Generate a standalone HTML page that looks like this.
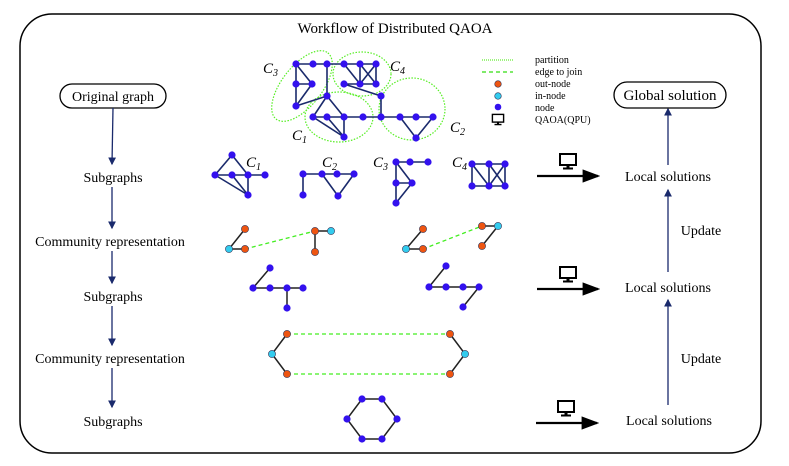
<!DOCTYPE html>
<html><head><meta charset="utf-8"><style>
html,body{margin:0;padding:0;background:#fff;width:789px;height:466px;overflow:hidden}
svg text{font-family:"Liberation Serif",serif;fill:#000}
</style></head><body>
<svg width="789" height="466" viewBox="0 0 789 466" xmlns="http://www.w3.org/2000/svg">
<defs>
<marker id="a" markerWidth="6" markerHeight="6" refX="5" refY="3" orient="auto"><path d="M0,0 L6,3 L0,6 z" fill="#1a2a6c"/></marker>
<marker id="b" markerWidth="8" markerHeight="8" refX="7" refY="4" orient="auto"><path d="M0,1 L8,4 L0,7 z" fill="#000"/></marker>
<g id="mon"><rect x="-8" y="-8" width="16" height="11" fill="none" stroke="#000" stroke-width="2"/><rect x="-1.5" y="3" width="3" height="3" fill="#000"/><rect x="-5" y="5.5" width="10" height="2" fill="#000"/></g>
</defs>
<rect x="20" y="14" width="741" height="439" rx="32" fill="none" stroke="#000" stroke-width="1.5"/>
<text x="395" y="33" font-size="15" text-anchor="middle">Workflow of Distributed QAOA</text>

<!-- left column -->
<rect x="60" y="84" width="106" height="24" rx="12" fill="none" stroke="#000" stroke-width="1.3"/>
<text x="113" y="101" font-size="14" text-anchor="middle">Original graph</text>
<g stroke="#1a2a6c" stroke-width="1.3" marker-end="url(#a)">
<line x1="113" y1="108" x2="112" y2="164"/>
<line x1="112" y1="187" x2="112" y2="228"/>
<line x1="112" y1="251" x2="112" y2="283"/>
<line x1="112" y1="306" x2="112" y2="345"/>
<line x1="112" y1="368" x2="112" y2="407"/>
<line x1="668" y1="165" x2="668" y2="109"/>
<line x1="668" y1="272" x2="668" y2="190"/>
<line x1="668" y1="405" x2="668" y2="300"/>
</g>
<g font-size="14" text-anchor="middle">
<text x="113" y="182">Subgraphs</text>
<text x="110" y="246">Community representation</text>
<text x="113" y="301">Subgraphs</text>
<text x="110" y="363">Community representation</text>
<text x="113" y="426">Subgraphs</text>
<text x="668" y="181">Local solutions</text>
<text x="668" y="292">Local solutions</text>
<text x="669" y="425">Local solutions</text>
<text x="701" y="235">Update</text>
<text x="701" y="363">Update</text>
</g>
<rect x="614" y="82" width="112" height="26" rx="13" fill="none" stroke="#000" stroke-width="1.3"/>
<text x="670" y="100" font-size="15" text-anchor="middle">Global solution</text>

<!-- QPU arrows -->
<g stroke="#000" stroke-width="2.2" marker-end="url(#b)">
<line x1="537" y1="176" x2="598" y2="176"/>
<line x1="537" y1="289" x2="598" y2="289"/>
<line x1="536" y1="423" x2="597" y2="423"/>
</g>
<use href="#mon" x="568" y="162"/>
<use href="#mon" x="568" y="275"/>
<use href="#mon" x="566" y="409"/>

<!-- legend -->
<line x1="482" y1="60" x2="513" y2="60" stroke="#66ee33" stroke-width="1.3" stroke-dasharray="1,1"/>
<line x1="482" y1="72" x2="513" y2="72" stroke="#33dd11" stroke-width="1.3" stroke-dasharray="4,3"/>
<circle cx="498" cy="84" r="3.3" fill="#ee5511" stroke="#335" stroke-width=".6"/>
<circle cx="498" cy="96" r="3.3" fill="#33ccee" stroke="#335" stroke-width=".6"/>
<circle cx="498" cy="107" r="3.3" fill="#3311ee"/>
<g transform="translate(498,120) scale(.7)"><use href="#mon"/></g>
<g font-size="10">
<text x="535" y="63">partition</text>
<text x="535" y="75">edge to join</text>
<text x="535" y="87">out-node</text>
<text x="535" y="99">in-node</text>
<text x="535" y="111">node</text>
<text x="535" y="123">QAOA(QPU)</text>
</g>

<!-- partitions -->
<g fill="none" stroke="#55ee22" stroke-width="1.2" stroke-dasharray="1.5,1.5">
<ellipse cx="302" cy="86" rx="42" ry="20" transform="rotate(-52 302 86)"/>
<ellipse cx="362" cy="74" rx="29" ry="22"/>
<ellipse cx="339" cy="117" rx="34" ry="25"/>
<ellipse cx="412" cy="109" rx="33" ry="31"/>
</g>
<g font-size="15" font-style="italic">
<text x="263" y="73">C<tspan font-size="10" dy="3">3</tspan></text>
<text x="390" y="71">C<tspan font-size="10" dy="3">4</tspan></text>
<text x="292" y="140">C<tspan font-size="10" dy="3">1</tspan></text>
<text x="450" y="132">C<tspan font-size="10" dy="3">2</tspan></text>
<text x="246" y="167">C<tspan font-size="10" dy="3">1</tspan></text>
<text x="322" y="167">C<tspan font-size="10" dy="3">2</tspan></text>
<text x="373" y="167">C<tspan font-size="10" dy="3">3</tspan></text>
<text x="452" y="167">C<tspan font-size="10" dy="3">4</tspan></text>
</g>

<!-- edges navy -->
<g stroke="#1a2a6c" stroke-width="1.6" fill="none">
<path d="M296,64H376 M296,64V106 M296,64L312,84 M296,84H312 M312,84L296,106 M296,106L327,96 M327,64V96
M344,64L360,84 M360,64V84 M360,64L376,84 M376,64L360,84 M376,64V84 M344,84H376 M344,84L381,96 M381,96V117
M327,96L313,117 M327,96L344,117 M313,117L344,137 M327,117L344,137 M344,117V137 M313,117H433
M400,117L416,138L433,117"/>
<path d="M215,175L232,155L248,175 M215,175H265 M215,175L248,195 M232,175L248,195 M248,175V195"/>
<path d="M303,174H354 M303,174V195 M322,174L338,196L354,174"/>
<path d="M396,162H428 M396,162V203 M396,162L412,183 M396,183H412 M412,183L396,203"/>
<path d="M472,164H505 M472,186H505 M472,164V186 M472,164L489,186 M489,164V186 M489,164L505,186 M505,164L489,186 M505,164V186"/>
</g>
<g stroke="#222" stroke-width="1.5" fill="none">
<path d="M245,229L229,249H245 M315,252V231H331 M423,229L406,249H423 M498,226H482 M498,226L482,246"/>
<path d="M270,268L253,288H303 M287,288V308 M446,266L429,287H479 M479,287L463,307"/>
<path d="M287,334L272,354L287,374 M450,334L465,354L450,374"/>
<path d="M362,399H382L397,419L382,439H362L347,419Z"/>
</g>
<g stroke="#44ee22" stroke-width="1.3" stroke-dasharray="4,3">
<line x1="245" y1="249" x2="315" y2="231"/>
<line x1="423" y1="249" x2="482" y2="226"/>
<line x1="287" y1="334" x2="450" y2="334"/>
<line x1="287" y1="374" x2="450" y2="374"/>
</g>

<!-- nodes -->
<g fill="#3311ee">
<circle cx="296" cy="64" r="3.6"/><circle cx="313" cy="64" r="3.6"/><circle cx="327" cy="64" r="3.6"/><circle cx="344" cy="64" r="3.6"/><circle cx="360" cy="64" r="3.6"/><circle cx="376" cy="64" r="3.6"/>
<circle cx="296" cy="84" r="3.6"/><circle cx="312" cy="84" r="3.6"/><circle cx="296" cy="106" r="3.6"/>
<circle cx="344" cy="84" r="3.6"/><circle cx="360" cy="84" r="3.6"/><circle cx="376" cy="84" r="3.6"/><circle cx="381" cy="96" r="3.6"/>
<circle cx="327" cy="96" r="3.6"/><circle cx="313" cy="117" r="3.6"/><circle cx="327" cy="117" r="3.6"/><circle cx="344" cy="117" r="3.6"/><circle cx="363" cy="117" r="3.6"/><circle cx="344" cy="137" r="3.6"/>
<circle cx="381" cy="117" r="3.6"/><circle cx="400" cy="117" r="3.6"/><circle cx="416" cy="117" r="3.6"/><circle cx="433" cy="117" r="3.6"/><circle cx="416" cy="138" r="3.6"/>
<circle cx="232" cy="155" r="3.6"/><circle cx="215" cy="175" r="3.6"/><circle cx="232" cy="175" r="3.6"/><circle cx="248" cy="175" r="3.6"/><circle cx="265" cy="175" r="3.6"/><circle cx="248" cy="195" r="3.6"/>
<circle cx="303" cy="174" r="3.6"/><circle cx="322" cy="174" r="3.6"/><circle cx="337" cy="174" r="3.6"/><circle cx="354" cy="174" r="3.6"/><circle cx="303" cy="195" r="3.6"/><circle cx="338" cy="196" r="3.6"/>
<circle cx="396" cy="162" r="3.6"/><circle cx="410" cy="162" r="3.6"/><circle cx="428" cy="162" r="3.6"/><circle cx="396" cy="183" r="3.6"/><circle cx="412" cy="183" r="3.6"/><circle cx="396" cy="203" r="3.6"/>
<circle cx="472" cy="164" r="3.6"/><circle cx="489" cy="164" r="3.6"/><circle cx="505" cy="164" r="3.6"/><circle cx="472" cy="186" r="3.6"/><circle cx="489" cy="186" r="3.6"/><circle cx="505" cy="186" r="3.6"/>
<circle cx="270" cy="268" r="3.6"/><circle cx="253" cy="288" r="3.6"/><circle cx="270" cy="288" r="3.6"/><circle cx="287" cy="288" r="3.6"/><circle cx="303" cy="288" r="3.6"/><circle cx="287" cy="308" r="3.6"/>
<circle cx="446" cy="266" r="3.6"/><circle cx="429" cy="287" r="3.6"/><circle cx="446" cy="287" r="3.6"/><circle cx="463" cy="287" r="3.6"/><circle cx="479" cy="287" r="3.6"/><circle cx="463" cy="307" r="3.6"/>
<circle cx="362" cy="399" r="3.6"/><circle cx="382" cy="399" r="3.6"/><circle cx="347" cy="419" r="3.6"/><circle cx="397" cy="419" r="3.6"/><circle cx="362" cy="439" r="3.6"/><circle cx="382" cy="439" r="3.6"/>
</g>
<g fill="#ee5511" stroke="#335" stroke-width=".6">
<circle cx="245" cy="229" r="3.6"/><circle cx="245" cy="249" r="3.6"/><circle cx="315" cy="231" r="3.6"/><circle cx="315" cy="252" r="3.6"/>
<circle cx="423" cy="229" r="3.6"/><circle cx="423" cy="249" r="3.6"/><circle cx="482" cy="226" r="3.6"/><circle cx="482" cy="246" r="3.6"/>
<circle cx="287" cy="334" r="3.6"/><circle cx="287" cy="374" r="3.6"/><circle cx="450" cy="334" r="3.6"/><circle cx="450" cy="374" r="3.6"/>
</g>
<g fill="#33ccee" stroke="#335" stroke-width=".6">
<circle cx="229" cy="249" r="3.6"/><circle cx="331" cy="231" r="3.6"/><circle cx="406" cy="249" r="3.6"/><circle cx="498" cy="226" r="3.6"/>
<circle cx="272" cy="354" r="3.6"/><circle cx="465" cy="354" r="3.6"/>
</g>
</svg>
</body></html>
